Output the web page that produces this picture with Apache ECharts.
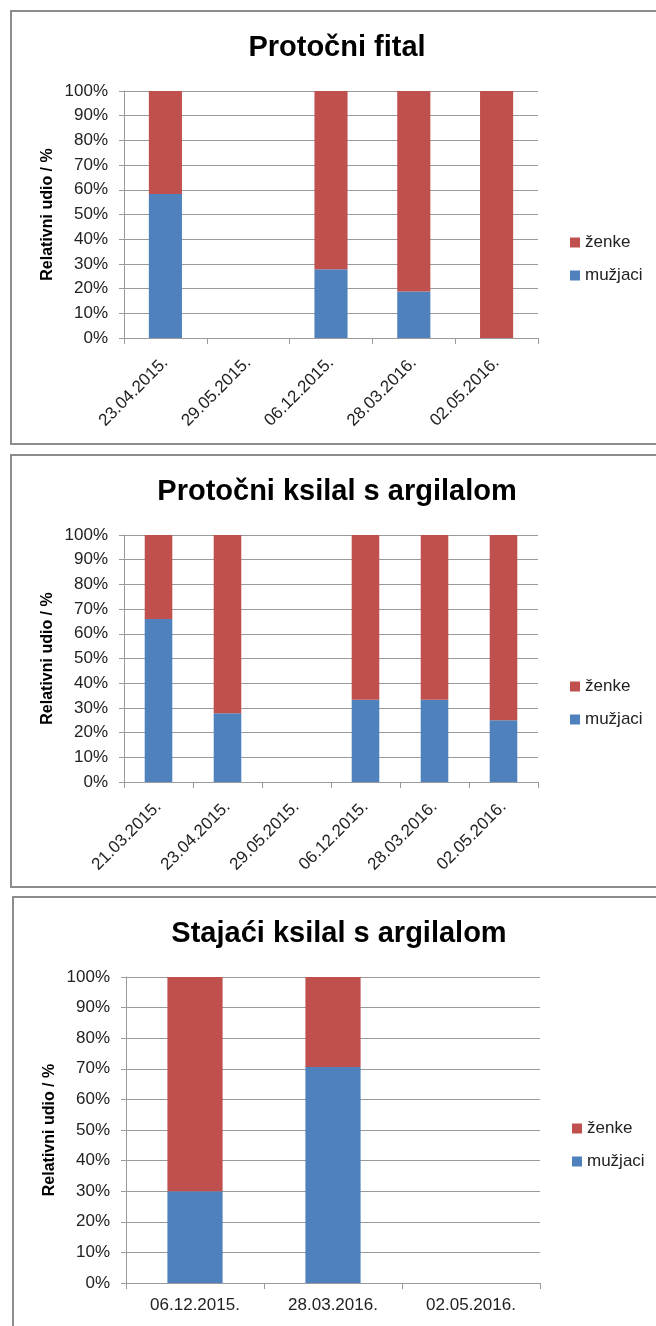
<!DOCTYPE html>
<html>
<head>
<meta charset="utf-8">
<script src="https://cdn.jsdelivr.net/npm/echarts@6/dist/echarts.min.js"></script>
<style>
    html, body { margin: 0; padding: 0; background: #fff; overflow: hidden; }
    body { width: 656px; height: 1326px; position: relative; }
    .panel {
        position: absolute;
        box-sizing: border-box;
        border: 2px solid #8c8c8c;
        background: #fff;
        width: 670px;
    }
    .chart { width: 656px; height: 100%; }
</style>
</head>
<body>
<div class="panel" style="left:10px;top:10px;height:435px"><div id="c1" class="chart"></div></div>
<div class="panel" style="left:10px;top:454px;height:434px"><div id="c2" class="chart"></div></div>
<div class="panel" style="left:12px;top:896px;height:450px"><div id="c3" class="chart"></div></div>
<script>
// Protočni fital
const dates1 = ['23.04.2015.', '29.05.2015.', '06.12.2015.', '28.03.2016.', '02.05.2016.']
const muzjaci1 = [58.3, 0, 27.8, 18.8, 0]
const zenke1 = [41.7, 0, 72.2, 81.2, 100]

// Protočni ksilal s argilalom
const dates2 = ['21.03.2015.', '23.04.2015.', '29.05.2015.', '06.12.2015.', '28.03.2016.', '02.05.2016.']
const muzjaci2 = [66, 27.8, 0, 33.3, 33.3, 25]
const zenke2 = [34, 72.2, 0, 66.7, 66.7, 75]

// Stajaći ksilal s argilalom
const dates3 = ['06.12.2015.', '28.03.2016.', '02.05.2016.']
const muzjaci3 = [30, 70.6, 0]
const zenke3 = [70, 29.4, 0]

const FONT = '"Liberation Sans", Arial, sans-serif'
const gridColor = '#9a9a9a'

function initChart(id, title, labels, male, female, plotHeight, rotate){
    const chart = echarts.init(document.getElementById(id))
    const option = {
        animation: false,
        title: {
            text: title,
            left: 325,
            top: 21,
            padding: 0,
            textAlign: 'center',
            textStyle: {
                fontFamily: FONT,
                fontSize: 29,
                fontWeight: 'bold',
                color: '#000'
            }
        },
        legend: {
            data: ['ženke', 'mužjaci'],
            orient: 'vertical',
            left: 553,
            top: 217,
            icon: 'rect',
            itemWidth: 10,
            itemHeight: 10,
            itemGap: 16,
            textStyle: {
                fontFamily: FONT,
                fontSize: 17,
                color: '#222'
            }
        },
        grid: {
            left: 112,
            top: 79,
            width: 414,
            height: plotHeight
        },
        xAxis: {
            type: 'category',
            data: labels,
            axisLine: { lineStyle: { color: gridColor, width: 1 } },
            axisTick: { show: true, length: 6, lineStyle: { color: gridColor } },
            axisLabel: {
                interval: 0,
                rotate: rotate,
                margin: rotate ? 22 : 14,
                fontFamily: FONT,
                fontSize: 17,
                color: '#222'
            }
        },
        yAxis: {
            type: 'value',
            min: 0,
            max: 100,
            interval: 10,
            name: 'Relativni udio / %',
            nameLocation: 'middle',
            nameGap: 68,
            nameMoveOverlap: false,
            nameTextStyle: {
                fontFamily: FONT,
                fontSize: 16,
                fontWeight: 'bold',
                color: '#000'
            },
            axisLine: { show: true, lineStyle: { color: gridColor } },
            axisTick: { show: true, length: 5, lineStyle: { color: gridColor } },
            axisLabel: {
                formatter: '{value}%',
                margin: 16,
                fontFamily: FONT,
                fontSize: 17,
                color: '#222'
            },
            splitLine: { lineStyle: { color: gridColor, width: 1 } }
        },
        series: [
            {
                name: 'mužjaci',
                type: 'bar',
                stack: 'udio',
                barWidth: '40%',
                data: male,
                itemStyle: { color: '#4f81bd' }
            },
            {
                name: 'ženke',
                type: 'bar',
                stack: 'udio',
                barWidth: '40%',
                data: female,
                itemStyle: { color: '#c0504d' }
            }
        ]
    }
    chart.setOption(option)
    return chart
}

initChart('c1', 'Protočni fital', dates1, muzjaci1, zenke1, 247, 45)
initChart('c2', 'Protočni ksilal s argilalom', dates2, muzjaci2, zenke2, 247, 45)
initChart('c3', 'Stajaći ksilal s argilalom', dates3, muzjaci3, zenke3, 306, 0)
</script>
</body>
</html>
